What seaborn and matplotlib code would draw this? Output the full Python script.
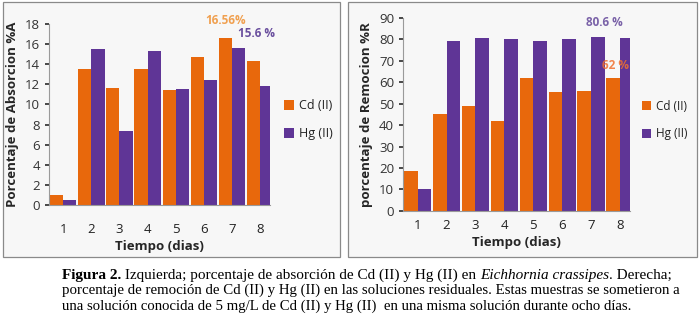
import numpy as np
import pandas as pd
import seaborn as sns
import matplotlib.pyplot as plt
from matplotlib.patches import Rectangle

# data
dias = ["1", "2", "3", "4", "5", "6", "7", "8"]
metales = ["Cd (II)", "Hg (II)"]

abs_cd = [1.0, 13.5, 11.6, 13.5, 11.4, 14.7, 16.56, 14.3]
abs_hg = [0.5, 15.5, 7.4, 15.3, 11.5, 12.4, 15.6, 11.8]

rem_cd = [18.5, 45.0, 49.0, 42.0, 62.0, 55.5, 56.0, 62.0]
rem_hg = [10.0, 79.0, 80.5, 80.0, 79.0, 80.0, 81.0, 80.6]

colores = ["#e8680c", "#5f3596"]


def tabla(cd, hg):
    return pd.DataFrame({
        "dia": dias * 2,
        "metal": [metales[0]] * len(dias) + [metales[1]] * len(dias),
        "valor": cd + hg,
    })


sns.set_theme(style="white")
plt.rcParams["font.family"] = ["Open Sans", "DejaVu Sans"]

fig = plt.figure(figsize=(7, 3.19), dpi=100)
fig.patch.set_facecolor("white")

# panel frames
for x0, w in [(0.004, 0.482), (0.497, 0.498)]:
    fig.patches.append(Rectangle((x0, 0.195), w, 0.8, transform=fig.transFigure,
                                 facecolor="#f7f7f7", edgecolor="#8a8a8a", lw=0.9, zorder=-5))

ax1 = fig.add_axes([0.07, 0.357, 0.316, 0.568])
ax2 = fig.add_axes([0.576, 0.339, 0.324, 0.605])


def panel(ax, df, ylim, step, ylabel, xpad, leg_x, leg_fs):
    sns.barplot(data=df, x="dia", y="valor", hue="metal", palette=colores,
                width=0.94, ax=ax, saturation=1, edgecolor="none", legend=True)
    ax.set_facecolor("none")
    ax.set_ylim(0, ylim)
    ax.set_xlim(-0.5, 7.35)
    ax.set_yticks(np.arange(0, ylim + 1, step))
    ax.tick_params(axis="y", labelsize=9.5, colors="#333333", length=3, left=True)
    ax.tick_params(axis="x", labelsize=9.5, colors="#222222", length=0, pad=xpad)
    for s in ["top", "right"]:
        ax.spines[s].set_visible(False)
    for s in ["left", "bottom"]:
        ax.spines[s].set_color("#9a9a9a")
        ax.spines[s].set_linewidth(0.8)
    ax.set_xlabel("Tiempo (dias)", fontsize=9.5, fontweight="bold", labelpad=3)
    ax.set_ylabel(ylabel, fontsize=9.5, fontweight="bold", labelpad=4)
    leg = ax.legend(loc="center left", bbox_to_anchor=(leg_x, 0.47), frameon=False,
                    fontsize=leg_fs, handlelength=0.8, handleheight=0.8,
                    handletextpad=0.4, labelspacing=1.2, borderaxespad=0.2)
    for t in leg.get_texts():
        t.set_color("#222222")


panel(ax1, tabla(abs_cd, abs_hg), 18, 2, "Porcentaje de Absorcion %A", 13, 1.03, 9)
panel(ax2, tabla(rem_cd, rem_hg), 90, 10, "porcentaje de Remocion %R", 6, 1.02, 8.5)

# value annotations
ax1.text(5.76, 18.3, "16.56%", color="#f0a050", fontsize=8.5,
         fontweight="bold", ha="center", va="center", clip_on=False)
ax1.text(6.87, 17.0, "15.6 %", color="#6a4f9e", fontsize=8.5,
         fontweight="bold", ha="center", va="center")
ax2.text(6.45, 87.7, "80.6 %", color="#7a62a8", fontsize=8.5,
         fontweight="bold", ha="center", va="center")
ax2.text(6.85, 67.6, "62 %", color="#f07030", fontsize=8.5,
         fontweight="bold", ha="center", va="center", alpha=0.85)

# caption with mixed styles
serif = ["Liberation Serif", "DejaVu Serif"]
lineas = [
    [("Figura 2.", "bold", "normal"),
     (" Izquierda; porcentaje de absorción de Cd (II) y Hg (II) en ", "normal", "normal"),
     ("Eichhornia crassipes", "normal", "italic"),
     (". Derecha;", "normal", "normal")],
    [("porcentaje de remoción de Cd (II) y Hg (II) en las soluciones residuales. Estas muestras se sometieron a",
      "normal", "normal")],
    [("una solución conocida de 5 mg/L de Cd (II) y Hg (II)  en una misma solución durante ocho días.",
      "normal", "normal")],
]
tamanos = [11.0, 10.7, 10.6]
fig.canvas.draw()
renderer = fig.canvas.get_renderer()
y0 = 1 - 275 / 319
for i, partes in enumerate(lineas):
    x = 62 / 700
    y = y0 - i * 15.5 / 319
    for txt, peso, estilo in partes:
        t = fig.text(x, y, txt, family=serif, fontsize=tamanos[i], fontweight=peso,
                     fontstyle=estilo, ha="left", va="center", color="black")
        bb = t.get_window_extent(renderer)
        x += bb.width / fig.bbox.width

fig.savefig("out.png", dpi=100)
